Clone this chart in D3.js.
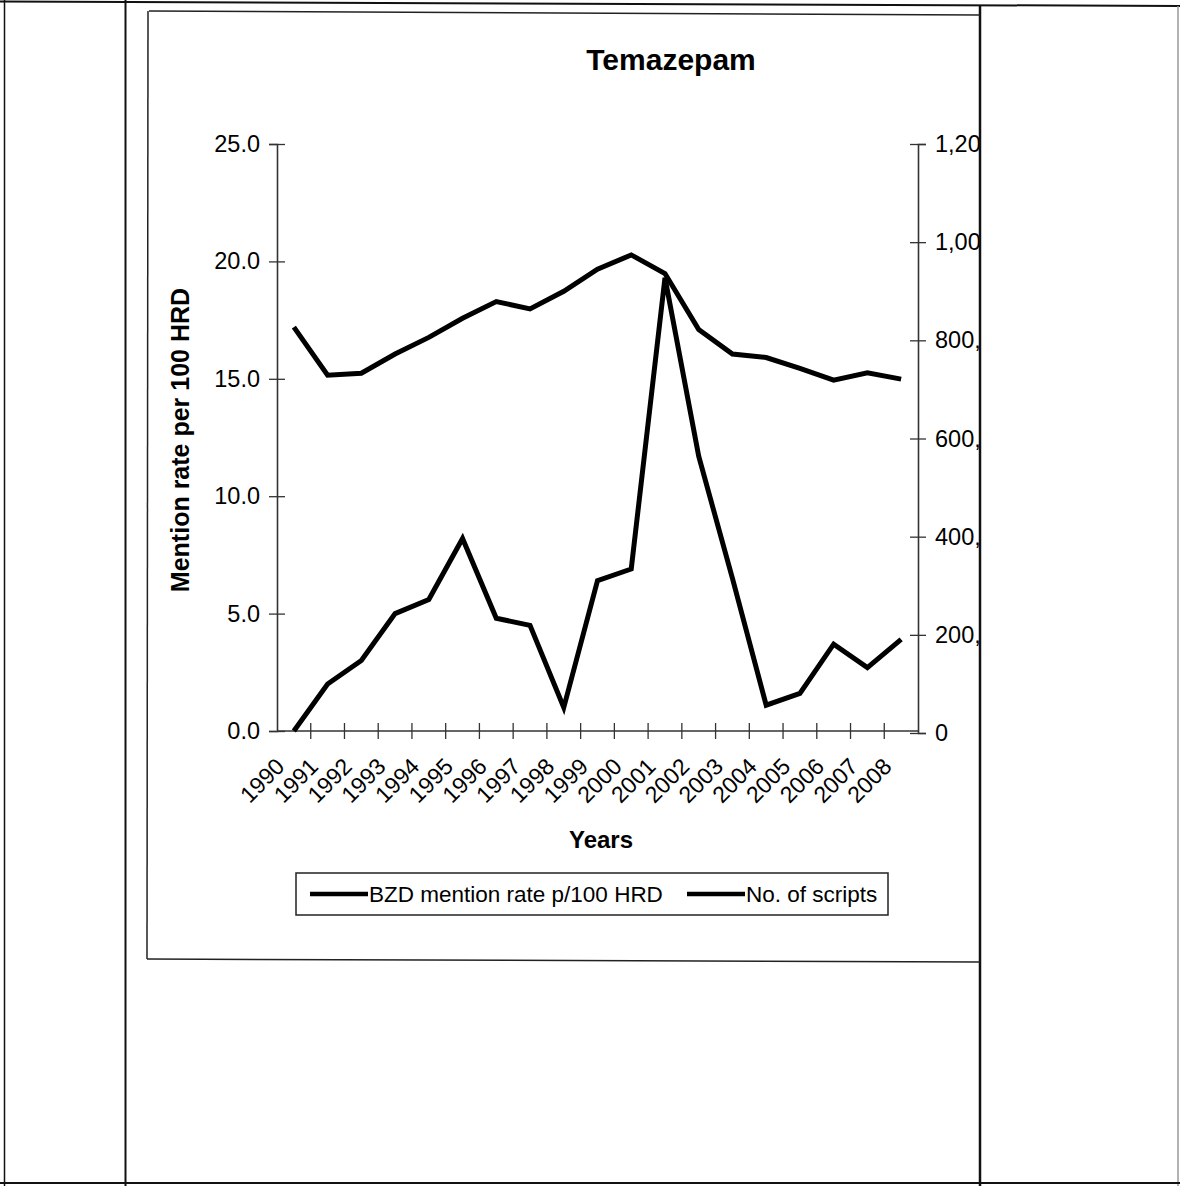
<!DOCTYPE html>
<html>
<head>
<meta charset="utf-8">
<script src="https://cdn.jsdelivr.net/npm/d3@7/dist/d3.min.js"></script>
<style>
  html, body { margin: 0; padding: 0; background: #fff; }
  svg { display: block; }
  text { font-family: "Liberation Sans", Arial, sans-serif; fill: #000; }
</style>
</head>
<body>
<script>
// Temazepam: mention rate per 100 heroin-related deaths vs number of scripts
const years = ["1990","1991","1992","1993","1994","1995","1996","1997","1998","1999",
               "2000","2001","2002","2003","2004","2005","2006","2007","2008"];
const mentionRate = [0.0, 2.0, 3.0, 5.0, 5.6, 8.2, 4.8, 4.5, 1.0, 6.4,
                     6.9, 19.3, 11.7, 6.5, 1.1, 1.6, 3.7, 2.7, 3.9];
const scripts = [827000, 729000, 733000, 772000, 806000, 845000, 879000, 864000, 900000, 945000,
                 974000, 936000, 822000, 772000, 765000, 743000, 719000, 734000, 721000];
const leftTicks = [0, 5, 10, 15, 20, 25];
const rightTicks = [0, 200000, 400000, 600000, 800000, 1000000, 1200000];
const seriesNames = ["BZD mention rate p/100 HRD", "No. of scripts"];

const W = 1180, H = 1186;
const svg = d3.select("body").append("svg").attr("width", W).attr("height", H);

// page / table rules
const rule = (x1, y1, x2, y2, w, c) =>
  svg.append("line").attr("x1", x1).attr("y1", y1).attr("x2", x2).attr("y2", y2)
     .attr("stroke", c || "#111").attr("stroke-width", w || 1.5);
rule(0, 1.5, 1180, 6, 2);
rule(4.5, 0, 4.5, 1186, 1.5);
rule(125.5, 0, 125.5, 1186, 2);
rule(980, 5, 980, 1186, 2.5);
rule(1178, 6, 1178, 1186, 1.5, "#999");
rule(0, 1183, 1180, 1183, 2);

// chart area frame
rule(149, 11, 980, 15, 1.5, "#222");
rule(148, 11, 147, 959, 1.5, "#222");
rule(147, 959, 980, 962, 1.5, "#222");

const clip = svg.append("defs").append("clipPath").attr("id", "chartClip");
clip.append("rect").attr("x", 0).attr("y", 0).attr("width", 979).attr("height", H);

const g = svg.append("g").attr("clip-path", "url(#chartClip)");

const x = d3.scaleBand().domain(years).range([277, 918]).padding(0);
const cx = d => x(d) + x.bandwidth() / 2;
const yL = d3.scaleLinear().domain([0, 25]).range([731, 144]);
const yR = d3.scaleLinear().domain([0, 1200000]).range([733, 144]);

const axisColor = "#333";

// left axis
const axL = g.append("g").attr("transform", "translate(277,0)")
  .call(d3.axisLeft(yL).tickValues(leftTicks).tickSize(8).tickPadding(9).tickFormat(d3.format(".1f")));
axL.select(".domain").attr("stroke", axisColor).attr("stroke-width", 1.6);
axL.selectAll(".tick line").attr("x1", 8).attr("stroke", axisColor).attr("stroke-width", 1.3);
axL.selectAll(".tick text").style("font-size", "23.5px").attr("font-family", "Liberation Sans, Arial, sans-serif").attr("fill", "#000");

// right axis
const axR = g.append("g").attr("transform", "translate(918,0)")
  .call(d3.axisRight(yR).tickValues(rightTicks).tickSize(8).tickPadding(9).tickFormat(d3.format(",")));
axR.select(".domain").attr("stroke", axisColor).attr("stroke-width", 1.6);
axR.selectAll(".tick line").attr("x1", -8).attr("stroke", axisColor).attr("stroke-width", 1.3);
axR.selectAll(".tick text").style("font-size", "23.5px").attr("font-family", "Liberation Sans, Arial, sans-serif").attr("fill", "#000");

// category axis: line with crossing ticks at category boundaries
g.append("line").attr("x1", 277).attr("x2", 918).attr("y1", yL(0)).attr("y2", yL(0))
  .attr("stroke", axisColor).attr("stroke-width", 1.6);
g.selectAll(".xtick").data(years.slice(1)).enter().append("line")
  .attr("class", "xtick")
  .attr("x1", d => x(d)).attr("x2", d => x(d))
  .attr("y1", yL(0) - 8).attr("y2", yL(0) + 8)
  .attr("stroke", axisColor).attr("stroke-width", 1.3);
g.selectAll(".xlab").data(years).enter().append("text")
  .attr("class", "xlab")
  .attr("text-anchor", "end")
  .attr("transform", d => `translate(${cx(d) - 8},${yL(0) + 37}) rotate(-45)`)
  .style("font-size", "23px")
  .text(d => d);

// series lines
const lineL = d3.line().x((d, i) => cx(years[i])).y(d => yL(d));
const lineR = d3.line().x((d, i) => cx(years[i])).y(d => yR(d));
g.append("path").datum(scripts).attr("d", lineR)
  .attr("fill", "none").attr("stroke", "#000").attr("stroke-width", 5)
  .attr("stroke-linejoin", "miter");
g.append("path").datum(mentionRate).attr("d", lineL)
  .attr("fill", "none").attr("stroke", "#000").attr("stroke-width", 5)
  .attr("stroke-linejoin", "miter");

// titles
g.append("text").attr("x", 671).attr("y", 70).attr("text-anchor", "middle")
  .style("font-size", "30px").style("font-weight", "bold").text("Temazepam");
g.append("text").attr("x", 601).attr("y", 848).attr("text-anchor", "middle")
  .style("font-size", "24px").style("font-weight", "bold").text("Years");
g.append("text").attr("text-anchor", "middle")
  .attr("transform", "translate(189,440) rotate(-90)")
  .style("font-size", "25px").style("font-weight", "bold").text("Mention rate per 100 HRD");

// legend
const lg = g.append("g");
lg.append("rect").attr("x", 296).attr("y", 873).attr("width", 592).attr("height", 42)
  .attr("fill", "none").attr("stroke", "#222").attr("stroke-width", 1.5);
const legendItems = [{ x: 310, name: seriesNames[0] }, { x: 687, name: seriesNames[1] }];
legendItems.forEach(it => {
  lg.append("line").attr("x1", it.x).attr("x2", it.x + 58).attr("y1", 894).attr("y2", 894)
    .attr("stroke", "#000").attr("stroke-width", 4.5);
  lg.append("text").attr("x", it.x + 59).attr("y", 902).style("font-size", "22.5px").text(it.name);
});
</script>
</body>
</html>
